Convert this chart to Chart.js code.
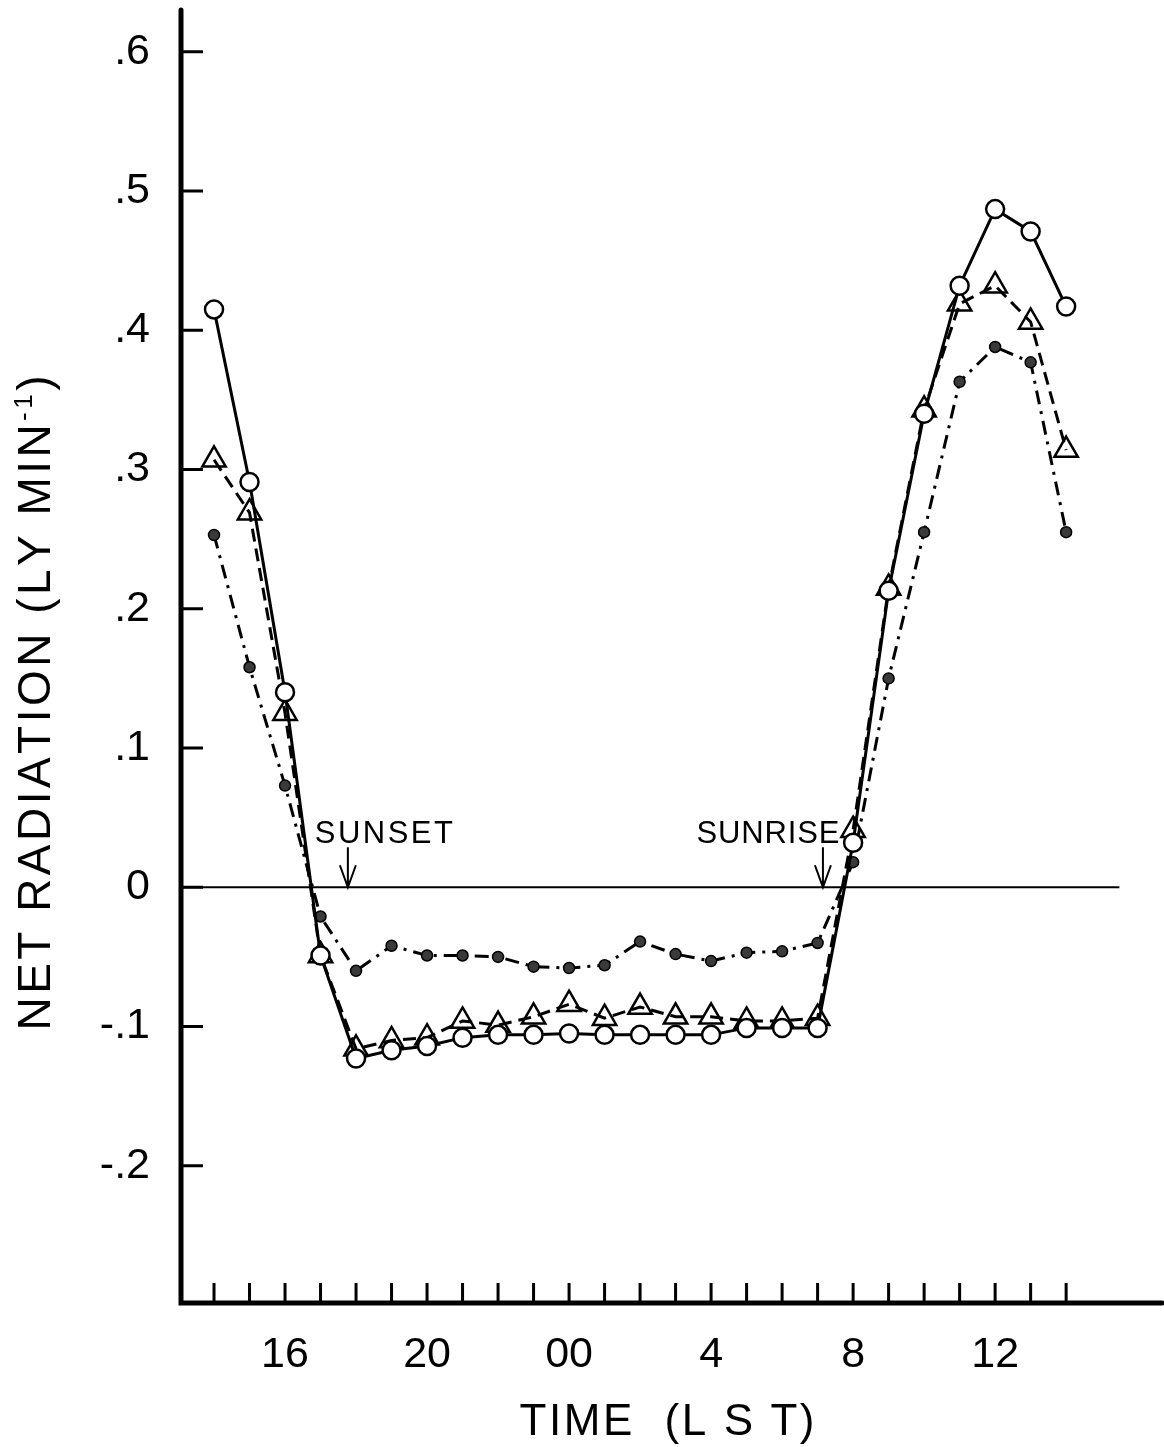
<!DOCTYPE html>
<html>
<head>
<meta charset="utf-8">
<title>Net radiation</title>
<script src="https://cdn.jsdelivr.net/npm/chart.js@4/dist/chart.umd.min.js"></script>
<style>
  html, body { margin: 0; padding: 0; background: #fff; }
  #wrap { width: 1164px; height: 1447px; }
</style>
</head>
<body>
<div id="wrap"><canvas id="radChart" width="1164" height="1447"></canvas></div>
<script>
// hours counted from 14 LST, one reading an hour
const hours = [0, 1, 2, 3, 4, 5, 6, 7, 8, 9, 10, 11, 12, 13, 14, 15, 16, 17, 18, 19, 20, 21, 22, 23, 24];

// open circles, solid line
const circleSeries = [0.415, 0.291, 0.140, -0.049, -0.123, -0.117, -0.114, -0.108, -0.106, -0.106, -0.105, -0.106, -0.106,
  -0.106, -0.106, -0.101, -0.101, -0.101, 0.032, 0.213, 0.340, 0.432, 0.487, 0.471, 0.417];
// triangles, dashed line
const triangleSeries = [0.307, 0.269, 0.125, -0.049, -0.116, -0.110, -0.108, -0.096, -0.099, -0.093, -0.084, -0.094, -0.086,
  -0.093, -0.093, -0.096, -0.096, -0.094, 0.041, 0.215, 0.343, 0.419, 0.432, 0.406, 0.314];
// small dots, dash-dot line
const dotSeries = [0.253, 0.158, 0.073, -0.021, -0.060, -0.042, -0.049, -0.049, -0.050, -0.057, -0.058, -0.056, -0.039,
  -0.048, -0.053, -0.047, -0.046, -0.040, 0.018, 0.150, 0.255, 0.363, 0.388, 0.377, 0.255];

const yTicks = [-0.2, -0.1, 0, 0.1, 0.2, 0.3, 0.4, 0.5, 0.6];
const yTickLabels = ["-.2", "-.1", "0", ".1", ".2", ".3", ".4", ".5", ".6"];
const xLabelHours = [2, 6, 10, 14, 18, 22];
const xTickLabels = ["16", "20", "00", "4", "8", "12"];

const sunsetHour = 3.77;   // about 18:46 LST
const sunriseHour = 17.15; // about 07:09 LST
const zeroLineEnd = 25.5;

const FONT = "'Liberation Sans', Arial, sans-serif";
Chart.defaults.font.family = FONT;
Chart.defaults.color = "#000";

function toPoints(series) {
  return hours.map((h, i) => ({ x: h, y: series[i] }));
}

// draw text char by char so it fills a given width
function spacedText(ctx, parts, x, y, width) {
  let natural = 0, count = 0;
  parts.forEach(p => {
    ctx.font = p.font;
    for (const ch of p.t) { natural += ctx.measureText(ch).width; count++; }
  });
  const gap = count > 1 ? (width - natural) / (count - 1) : 0;
  let cx = x - width / 2;
  parts.forEach(p => {
    ctx.font = p.font;
    for (const ch of p.t) {
      ctx.fillText(ch, cx, y - (p.rise || 0));
      cx += ctx.measureText(ch).width + gap;
    }
  });
}

// axes with inside ticks, zero line, sunset/sunrise arrows, axis titles
const paperAxes = {
  id: "paperAxes",
  beforeDatasetsDraw(chart) {
    const { ctx, chartArea: a, scales: { x, y } } = chart;
    const y0 = y.getPixelForValue(0);
    const axisY = a.bottom - 2;
    ctx.save();
    ctx.strokeStyle = "#000";
    ctx.fillStyle = "#000";

    ctx.lineWidth = 2;
    ctx.beginPath();
    ctx.moveTo(a.left, y0);
    ctx.lineTo(x.getPixelForValue(zeroLineEnd), y0);
    ctx.stroke();

    ctx.lineWidth = 5;
    ctx.lineCap = "round";
    ctx.beginPath();
    ctx.moveTo(a.left, a.top);
    ctx.lineTo(a.left, axisY);
    ctx.lineTo(a.right, axisY);
    ctx.stroke();

    ctx.lineWidth = 3;
    ctx.lineCap = "butt";
    ctx.beginPath();
    yTicks.forEach(v => {
      const py = y.getPixelForValue(v);
      ctx.moveTo(a.left, py);
      ctx.lineTo(a.left + 22, py);
    });
    hours.forEach(h => {
      const px = x.getPixelForValue(h);
      ctx.moveTo(px, axisY);
      ctx.lineTo(px, axisY - 20);
    });
    ctx.stroke();

    // arrows
    ctx.lineWidth = 2;
    [sunsetHour, sunriseHour].forEach(h => {
      const px = x.getPixelForValue(h);
      ctx.beginPath();
      ctx.moveTo(px, y0 - 40);
      ctx.lineTo(px, y0);
      ctx.moveTo(px - 8, y0 - 22);
      ctx.lineTo(px, y0);
      ctx.lineTo(px + 8, y0 - 22);
      ctx.stroke();
    });
    ctx.textBaseline = "alphabetic";
    ctx.textAlign = "left";
    const sx = x.getPixelForValue(sunsetHour);
    spacedText(ctx, [{ t: "SUNSET", font: "31px " + FONT }], sx - 33 + 69, y0 - 44, 138);
    const rx = x.getPixelForValue(sunriseHour);
    spacedText(ctx, [{ t: "SUNRISE", font: "31px " + FONT }], rx + 17 - 72, y0 - 44, 143);

    // x title
    spacedText(ctx, [{ t: "TIME  (L S T)", font: "44px " + FONT }], 667, 1435, 295);

    // y title, rotated
    ctx.translate(50, 703);
    ctx.rotate(-Math.PI / 2);
    spacedText(ctx, [
      { t: "NET RADIATION (LY MIN", font: "46px " + FONT },
      { t: "-1", font: "26px " + FONT, rise: 18 },
      { t: ")", font: "46px " + FONT }
    ], 0, 0, 655);
    ctx.restore();
  }
};

const ctx = document.getElementById("radChart").getContext("2d");

new Chart(ctx, {
  type: "line",
  data: {
    datasets: [
      {
        label: "circles",
        data: toPoints(circleSeries),
        borderColor: "#000",
        borderWidth: 3,
        pointStyle: "circle",
        pointRadius: 9,
        pointBorderWidth: 2.5,
        pointBorderColor: "#000",
        pointBackgroundColor: "#fff",
        tension: 0,
        fill: false,
      },
      {
        label: "triangles",
        data: toPoints(triangleSeries),
        borderColor: "#000",
        borderWidth: 3,
        borderDash: [13, 7],
        pointStyle: "triangle",
        pointRadius: 13.5,
        pointBorderWidth: 2.5,
        pointBorderColor: "#000",
        pointBackgroundColor: "rgba(255,255,255,0)",
        tension: 0,
        fill: false,
      },
      {
        label: "dots",
        data: toPoints(dotSeries),
        borderColor: "#000",
        borderWidth: 3,
        borderDash: [14, 7, 3, 7],
        pointStyle: "circle",
        pointRadius: 5.5,
        pointBorderWidth: 1.5,
        pointBorderColor: "#000",
        pointBackgroundColor: "#3a3a3a",
        tension: 0,
        fill: false,
      },
    ],
  },
  options: {
    responsive: false,
    animation: false,
    layout: { autoPadding: false, padding: { top: 10, right: 2, left: 0, bottom: 0 } },
    plugins: {
      legend: { display: false },
      tooltip: { enabled: false },
    },
    scales: {
      x: {
        type: "linear",
        min: -0.93,
        max: 26.7,
        grid: { display: false, drawTicks: false },
        border: { display: false },
        afterBuildTicks: (s) => { s.ticks = xLabelHours.map(v => ({ value: v })); },
        afterFit: (s) => {
          s.height = 142;
          s.paddingLeft = 0;
          s.paddingRight = 0;
        },
        ticks: {
          autoSkip: false,
          maxRotation: 0,
          padding: 24,
          font: { size: 43 },
          callback: (v) => xTickLabels[xLabelHours.indexOf(v)] ?? "",
        },
      },
      y: {
        min: -0.3,
        max: 0.63,
        grid: { display: false, drawTicks: false },
        border: { display: false },
        afterBuildTicks: (s) => { s.ticks = yTicks.map(v => ({ value: v })); },
        afterFit: (s) => {
          s.width = 181;
          s.paddingTop = 0;
          s.paddingBottom = 0;
        },
        ticks: {
          padding: 31,
          font: { size: 43 },
          callback: (v) => yTickLabels[yTicks.indexOf(v)] ?? "",
        },
      },
    },
  },
  plugins: [paperAxes],
});
</script>
</body>
</html>
